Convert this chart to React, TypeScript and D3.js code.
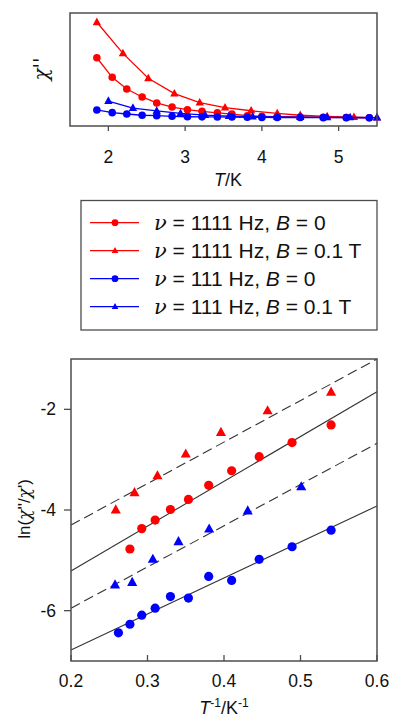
import React from "react";
import * as d3 from "d3";

// ---- Top panel data: chi'' (arbitrary units) vs T (K)
const tRedCirc = [1.85, 2.05, 2.24, 2.44, 2.63, 2.83, 3.03, 3.22, 3.42, 3.61, 3.81, 4.0, 4.2, 4.5, 4.8, 5.1, 5.4];
const chiRedCirc = [0.604, 0.431, 0.327, 0.257, 0.204, 0.168, 0.144, 0.13, 0.117, 0.106, 0.091, 0.086, 0.082, 0.08, 0.077, 0.075, 0.073];
const tRedTri = [1.85, 2.19, 2.52, 2.86, 3.19, 3.52, 3.86, 4.2, 4.5, 4.85, 5.2, 5.5];
const chiRedTri = [0.918, 0.643, 0.422, 0.286, 0.206, 0.162, 0.135, 0.112, 0.095, 0.084, 0.078, 0.075];
const tBlueCirc = [1.85, 2.05, 2.24, 2.44, 2.63, 2.83, 3.03, 3.22, 3.42, 3.61, 3.81, 4.0, 4.2, 4.5, 4.8, 5.1, 5.4];
const chiBlueCirc = [0.142, 0.118, 0.106, 0.095, 0.091, 0.086, 0.082, 0.081, 0.08, 0.079, 0.077, 0.076, 0.075, 0.075, 0.074, 0.074, 0.073];
const tBlueTri = [2.0, 2.32, 2.63, 2.94, 3.26, 3.57, 3.88, 4.2, 4.5, 4.85, 5.15, 5.5];
const chiBlueTri = [0.221, 0.159, 0.133, 0.112, 0.097, 0.088, 0.082, 0.08, 0.078, 0.077, 0.076, 0.075];
const topXTicks = [2, 3, 4, 5];

// ---- Bottom panel data: ln(chi''/chi') vs 1/T
const invRedTri = [0.2585, 0.283, 0.313, 0.35, 0.396, 0.457, 0.54];
const lnRedTri = [-4.0, -3.656, -3.32, -2.89, -2.46, -2.03, -1.66];
const invRedCirc = [0.277, 0.2925, 0.31, 0.33, 0.3535, 0.38, 0.41, 0.446, 0.489, 0.54];
const lnRedCirc = [-4.775, -4.37, -4.2, -3.99, -3.79, -3.51, -3.22, -2.94, -2.66, -2.31];
const invBlueTri = [0.2576, 0.28, 0.307, 0.3405, 0.3806, 0.431, 0.501];
const lnBlueTri = [-5.49, -5.44, -4.98, -4.63, -4.38, -4.02, -3.54];
const invBlueCirc = [0.262, 0.277, 0.2925, 0.31, 0.33, 0.3535, 0.38, 0.41, 0.446, 0.489, 0.54];
const lnBlueCirc = [-6.44, -6.27, -6.09, -5.95, -5.72, -5.75, -5.32, -5.4, -4.98, -4.73, -4.4];
// Arrhenius fit lines: [ln at x=0.2, ln at x=0.6]
const fitRedTri = [-4.3, -1.0];
const fitRedCirc = [-5.21, -1.65];
const fitBlueTri = [-5.95, -2.675];
const fitBlueCirc = [-6.78, -3.92];
const fitX = [0.2, 0.6];
const botXTicks = [0.2, 0.3, 0.4, 0.5, 0.6];
const botYTicks = [-2, -4, -6];

const legendLabels = [
  { freq: "1111", field: "0" },
  { freq: "1111", field: "0.1 T" },
  { freq: "111", field: "0" },
  { freq: "111", field: "0.1 T" },
];

const RED = "#ff0000";
const BLUE = "#0000ff";
const FONT = "'Liberation Sans', Arial, sans-serif";
const FRAME = "#4d4d4d";

function Marker({ x, y, kind, color, r }: { x: number; y: number; kind: string; color: string; r: number }) {
  if (kind === "circle") return <circle cx={x} cy={y} r={r} fill={color} />;
  const s = r * 2.2;
  const h = s * 0.9;
  const path = `M${x},${y - h * 0.62}L${x + s / 2},${y + h * 0.38}L${x - s / 2},${y + h * 0.38}Z`;
  return <path d={path} fill={color} />;
}

export default function App() {
  // top panel scales
  const tx = d3.scaleLinear().domain([1.5, 5.5]).range([70, 377]);
  const ty = d3.scaleLinear().domain([0, 1]).range([126, 13]);
  // bottom panel scales
  const bx = d3.scaleLinear().domain([0.2, 0.6]).range([71, 377]);
  const by = d3.scaleLinear().domain([-7, -1]).range([661, 359]);

  const topSeries = [
    { xs: tRedTri, ys: chiRedTri, color: RED, kind: "tri" },
    { xs: tRedCirc, ys: chiRedCirc, color: RED, kind: "circle" },
    { xs: tBlueTri, ys: chiBlueTri, color: BLUE, kind: "tri" },
    { xs: tBlueCirc, ys: chiBlueCirc, color: BLUE, kind: "circle" },
  ];
  const line = d3
    .line<[number, number]>()
    .x((d) => tx(d[0]))
    .y((d) => ty(d[1]));

  const fits = [
    { ys: fitRedTri, dash: "10,5" },
    { ys: fitRedCirc, dash: undefined },
    { ys: fitBlueTri, dash: "10,5" },
    { ys: fitBlueCirc, dash: undefined },
  ];
  const botSeries = [
    { xs: invRedTri, ys: lnRedTri, color: RED, kind: "tri" },
    { xs: invRedCirc, ys: lnRedCirc, color: RED, kind: "circle" },
    { xs: invBlueTri, ys: lnBlueTri, color: BLUE, kind: "tri" },
    { xs: invBlueCirc, ys: lnBlueCirc, color: BLUE, kind: "circle" },
  ];
  const legendSeries = [
    { color: RED, kind: "circle" },
    { color: RED, kind: "tri" },
    { color: BLUE, kind: "circle" },
    { color: BLUE, kind: "tri" },
  ];
  const legendRowY = d3.scaleLinear().domain([0, 3]).range([222.7, 306.7]);

  return (
    <svg
      width={393}
      height={717}
      style={{ position: "absolute", left: 0, top: 0, background: "#fff" }}
      fontFamily={FONT}
    >
      <rect x={0} y={0} width={393} height={717} fill="#fff" />
      {/* ===== Top panel ===== */}
      {topSeries.map((s, i) => (
        <g key={"ts" + i}>
          <path
            d={line(s.xs.map((x, j) => [x, s.ys[j]] as [number, number])) || ""}
            fill="none"
            stroke={s.color}
            strokeWidth={1.3}
          />
          {s.xs.map((x, j) => (
            <Marker key={j} x={tx(x)} y={ty(s.ys[j])} kind={s.kind} color={s.color} r={3.8} />
          ))}
        </g>
      ))}
      <rect x={70} y={13} width={307} height={113} fill="none" stroke={FRAME} strokeWidth={1.5} />
      {topXTicks.map((t) => (
        <g key={"tt" + t}>
          <line x1={tx(t)} x2={tx(t)} y1={126} y2={131} stroke={FRAME} strokeWidth={1.3} />
          <text x={tx(t)} y={163} textAnchor="middle" fontSize={17.5} fill="#111">
            {t}
          </text>
        </g>
      ))}
      <text x={228} y={186} textAnchor="middle" fontSize={18} fill="#111">
        <tspan fontStyle="italic">T</tspan>/K
      </text>
      <text
        transform="translate(48,69) rotate(-90)"
        textAnchor="middle"
        fontSize={20}
        fill="#111"
        fontFamily="'DejaVu Serif', serif"
        fontStyle="italic"
      >
        χ''
      </text>

      {/* ===== Legend ===== */}
      <rect x={81} y={200.5} width={296} height={129.5} fill="none" stroke={FRAME} strokeWidth={1.3} />
      {legendSeries.map((s, i) => {
        const y = legendRowY(i);
        const lab = legendLabels[i];
        return (
          <g key={"lg" + i}>
            <line x1={90} x2={139} y1={y} y2={y} stroke={s.color} strokeWidth={1.3} />
            <Marker x={115} y={y} kind={s.kind} color={s.color} r={s.kind === "circle" ? 3.4 : 3} />
            <text x={154} y={y + 7.5} fontSize={21} fill="#111">
              <tspan fontFamily="'DejaVu Serif', serif" fontStyle="italic">ν</tspan>
              {" = " + lab.freq + " Hz, "}
              <tspan fontStyle="italic">B</tspan>
              {" = " + lab.field}
            </text>
          </g>
        );
      })}

      {/* ===== Bottom panel ===== */}
      {fits.map((f, i) => (
        <line
          key={"fit" + i}
          x1={bx(fitX[0])}
          y1={by(f.ys[0])}
          x2={bx(fitX[1])}
          y2={by(f.ys[1])}
          stroke="#333"
          strokeWidth={1.1}
          strokeDasharray={f.dash}
        />
      ))}
      {botSeries.map((s, i) => (
        <g key={"bs" + i}>
          {s.xs.map((x, j) => (
            <Marker key={j} x={bx(x)} y={by(s.ys[j])} kind={s.kind} color={s.color} r={4.6} />
          ))}
        </g>
      ))}
      <rect x={71} y={359} width={306} height={302} fill="none" stroke={FRAME} strokeWidth={1.5} />
      {botXTicks.map((t) => (
        <g key={"bx" + t}>
          <line x1={bx(t)} x2={bx(t)} y1={661} y2={655} stroke={FRAME} strokeWidth={1.3} />
          <text x={bx(t)} y={687} textAnchor="middle" fontSize={17.5} fill="#111">
            {t.toFixed(1)}
          </text>
        </g>
      ))}
      {botYTicks.map((t) => (
        <g key={"by" + t}>
          <line x1={64} x2={71} y1={by(t)} y2={by(t)} stroke={FRAME} strokeWidth={1.3} />
          <text x={56} y={by(t) + 6} textAnchor="end" fontSize={17.5} fill="#111">
            {t}
          </text>
        </g>
      ))}
      <text x={224} y={714} textAnchor="middle" fontSize={18} fill="#111">
        <tspan fontStyle="italic">T</tspan>
        <tspan fontSize={12} dy={-7}>-1</tspan>
        <tspan dy={7}>/K</tspan>
        <tspan fontSize={12} dy={-7}>-1</tspan>
      </text>
      <text transform="translate(30,509) rotate(-90)" textAnchor="middle" fontSize={17} fill="#111">
        ln(
        <tspan fontFamily="'DejaVu Serif', serif" fontStyle="italic">χ</tspan>
        ''/
        <tspan fontFamily="'DejaVu Serif', serif" fontStyle="italic">χ</tspan>
        ')
      </text>
    </svg>
  );
}
